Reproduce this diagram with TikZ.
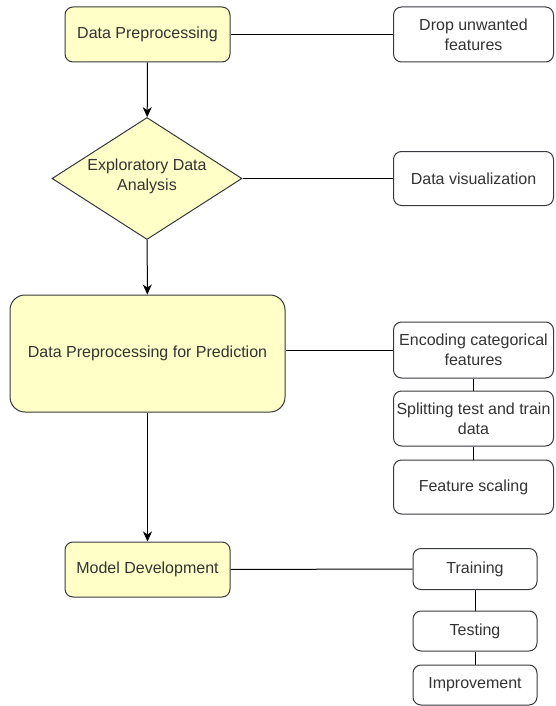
\documentclass[tikz,border=0pt]{standalone}
\usepackage{fontspec}
\setmainfont{Liberation Sans}
\usepackage{tikz}
\usetikzlibrary{shapes.geometric,arrows.meta}

\definecolor{boxfill}{RGB}{255,255,200}
\definecolor{boxline}{RGB}{54,57,61}
\definecolor{boxtext}{RGB}{51,51,51}

\begin{document}
\begin{tikzpicture}[x=1pt,y=-1pt,
    font=\fontsize{16}{20}\selectfont,
    every node/.style={text=boxtext,align=center,inner sep=0pt},
    stage/.style={draw=boxline,fill=boxfill,line width=1pt,rounded corners=8pt,
      minimum width=165pt,minimum height=55pt},
    bigstage/.style={stage,rounded corners=15pt,minimum width=275pt,minimum height=117pt},
    decision/.style={draw=boxline,fill=boxfill,line width=1pt,diamond,aspect=1.56,
      minimum width=190pt,minimum height=122pt},
    task/.style={draw=boxline,fill=white,line width=1pt,rounded corners=8pt,
      minimum width=160pt,minimum height=55pt},
    subtask/.style={task,minimum width=124pt,minimum height=41pt},
    link/.style={draw=black,line width=1pt},
    flow/.style={link,-{Stealth[length=10pt,width=9pt,inset=3pt]}}]

      \useasboundingbox (0,0) rectangle (555,706);

      % main stages
      \node[stage] (prep) at (147.5,34.5) {Data Preprocessing};
      \node[decision,label={[yshift=2pt,align=center]center:Exploratory Data\\Analysis}]
        (eda) at (147,178.5) {};
      \node[bigstage] (pred) at (147.5,353.5) {Data Preprocessing for Prediction};
      \node[stage] (model) at (147.5,569.5) {Model Development};

      % side tasks
      \node[task] (drop) at (473.5,34.5) {Drop unwanted\\features};
      \node[task,minimum height=54pt] (vis) at (473.5,178.5) {Data visualization};
      \node[task,minimum height=56pt] (enc) at (473.5,350) {Encoding categorical\\features};
      \node[task] (split) at (473.5,418.5) {Splitting test and train\\data};
      \node[task,minimum height=54pt] (scale) at (473.5,487) {Feature scaling};

      \node[subtask] (train) at (475,569) {Training};
      \node[subtask,minimum height=40pt] (test) at (475,631) {Testing};
      \node[subtask,minimum height=40pt] (improve) at (475,685) {Improvement};

      % flow arrows
      \draw[flow] (prep) -- (eda);
      \draw[flow] (eda) -- (pred);
      \draw[flow] (pred) -- (model);

      % side links
      \draw[link] (prep) -- (drop);
      \draw[link] (eda) -- (vis);
      \draw[link] (pred.east |- enc) -- (enc.west);
      \draw[link] (enc) -- (split);
      \draw[link] (split) -- (scale);
      \draw[link] (model) -- (train);
      \draw[link] (train) -- (test);
      \draw[link] (test) -- (improve);

    \end{tikzpicture}
\end{document}
